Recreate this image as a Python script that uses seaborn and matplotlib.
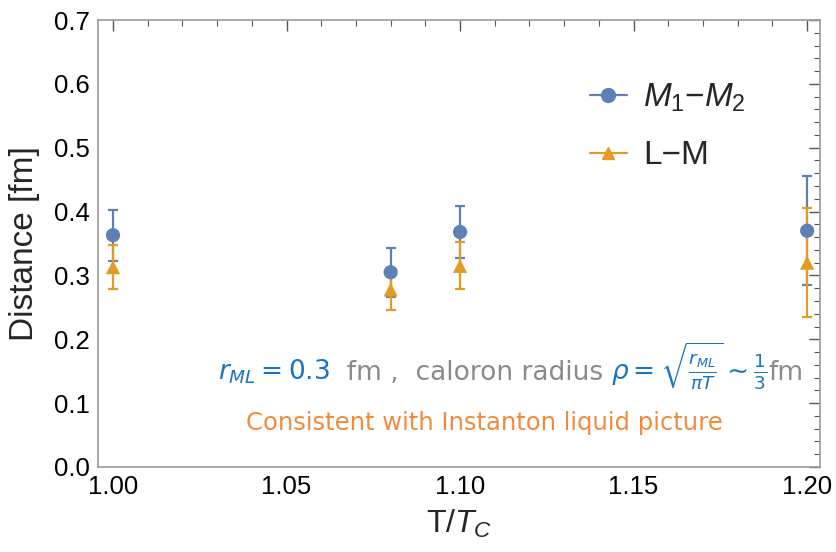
import numpy as np
import pandas as pd
import matplotlib
matplotlib.use("Agg")
import matplotlib.pyplot as plt
import seaborn as sns
from matplotlib.ticker import MultipleLocator
from matplotlib.lines import Line2D

# ---- data ----
temps = [1.00, 1.08, 1.10, 1.20]
mm_dist = [0.363, 0.305, 0.368, 0.370]
mm_err = [0.040, 0.038, 0.040, 0.085]
lm_dist = [0.313, 0.278, 0.315, 0.320]
lm_err = [0.035, 0.032, 0.037, 0.085]
series_names = ["$M_1$\u2212$M_2$", "L\u2212M"]
xtick_vals = [1.00, 1.05, 1.10, 1.15, 1.20]
xtick_labels = ["1.00", "1.05", "1.10", "1.15", "1.20"]

blue = "#5E81B5"
orange = "#E19C24"
frame_gray = "#9a9a9a"

sns.set_theme(style="white")
plt.rcParams["font.family"] = ["Liberation Sans", "DejaVu Sans"]
plt.rcParams["mathtext.fontset"] = "custom"
plt.rcParams["mathtext.it"] = "Liberation Sans:italic"
plt.rcParams["mathtext.rm"] = "Liberation Sans"

fig = plt.figure(figsize=(8.36, 5.52), dpi=100)
ax = fig.add_axes([98/836, 1-467/552, (820-98)/836, (467-20)/552])

df = pd.DataFrame({
    "T": temps * 2,
    "d": mm_dist + lm_dist,
    "err": mm_err + lm_err,
    "series": [series_names[0]] * 4 + [series_names[1]] * 4,
})

# error bars
ax.errorbar(temps, mm_dist, yerr=mm_err, fmt="none", ecolor=blue, elinewidth=1.6,
            capsize=3.5, capthick=1.6, zorder=2)
ax.errorbar(temps, lm_dist, yerr=lm_err, fmt="none", ecolor=orange, elinewidth=1.6,
            capsize=3.5, capthick=1.6, zorder=2)

sns.scatterplot(data=df, x="T", y="d", hue="series", style="series",
                markers={series_names[0]: "o", series_names[1]: "^"},
                palette={series_names[0]: blue, series_names[1]: orange},
                s=105, linewidth=0, ax=ax, legend=False, zorder=3)

ax.set_xlim(0.99568, 1.2037)
ax.set_ylim(0.0, 0.7)
ax.set_xticks(xtick_vals)
ax.set_xticklabels(xtick_labels)
ax.xaxis.set_minor_locator(MultipleLocator(0.01))
ax.yaxis.set_minor_locator(MultipleLocator(0.02))
ax.set_yticks(np.arange(0, 0.71, 0.1))
ax.set_yticklabels([f"{v:.1f}" for v in np.arange(0, 0.71, 0.1)])

for s in ax.spines.values():
    s.set_visible(True)
    s.set_color(frame_gray)
    s.set_linewidth(1.2)
ax.tick_params(which="both", direction="in", top=True, right=True,
               color="#555555", labelsize=18.5, labelcolor="black")
ax.tick_params(which="major", length=8, width=1.0, pad=6)
ax.tick_params(which="minor", length=4, width=0.8)

ax.set_xlabel("T/$T_C$", fontsize=23, labelpad=6)
ax.set_ylabel("Distance [fm]", fontsize=24, labelpad=10)

# legend
handles = [
    Line2D([0], [0], color=blue, marker="o", markersize=10, lw=1.6),
    Line2D([0], [0], color=orange, marker="^", markersize=9, lw=1.6),
]
ax.legend(handles, series_names, loc="upper left", bbox_to_anchor=(0.64, 0.93),
          frameon=False, fontsize=24, handlelength=1.1, handletextpad=0.5,
          labelspacing=0.8)

# annotation lines (multi-coloured)
tblue = "#1A74C4"
tgray = "#8a8a8a"
torange = "#F28A3C"
ann_fs = 19
plt.rcParams["mathtext.fontset"] = "dejavusans"
parts = [
    (r"$r_{ML} = 0.3$", tblue),
    ("  fm ,  caloron radius ", tgray),
    (r"$\rho = \sqrt{\frac{r_{ML}}{\pi T}} \sim \frac{1}{3}$", tblue),
    ("fm", tgray),
]
fig.canvas.draw()
renderer = fig.canvas.get_renderer()
x_px = 218
y_px = 552 - 380
for txt, col in parts:
    t = fig.text(x_px / 836, y_px / 552, txt, color=col, fontsize=ann_fs,
                 ha="left", va="baseline", family=["DejaVu Sans"])
    bb = t.get_window_extent(renderer=renderer)
    x_px += bb.width

fig.text(484 / 836, (552 - 430) / 552, "Consistent with Instanton liquid picture",
         color=torange, fontsize=17.5, ha="center", va="baseline",
         family=["DejaVu Sans"])

fig.savefig("out.png", dpi=100)
